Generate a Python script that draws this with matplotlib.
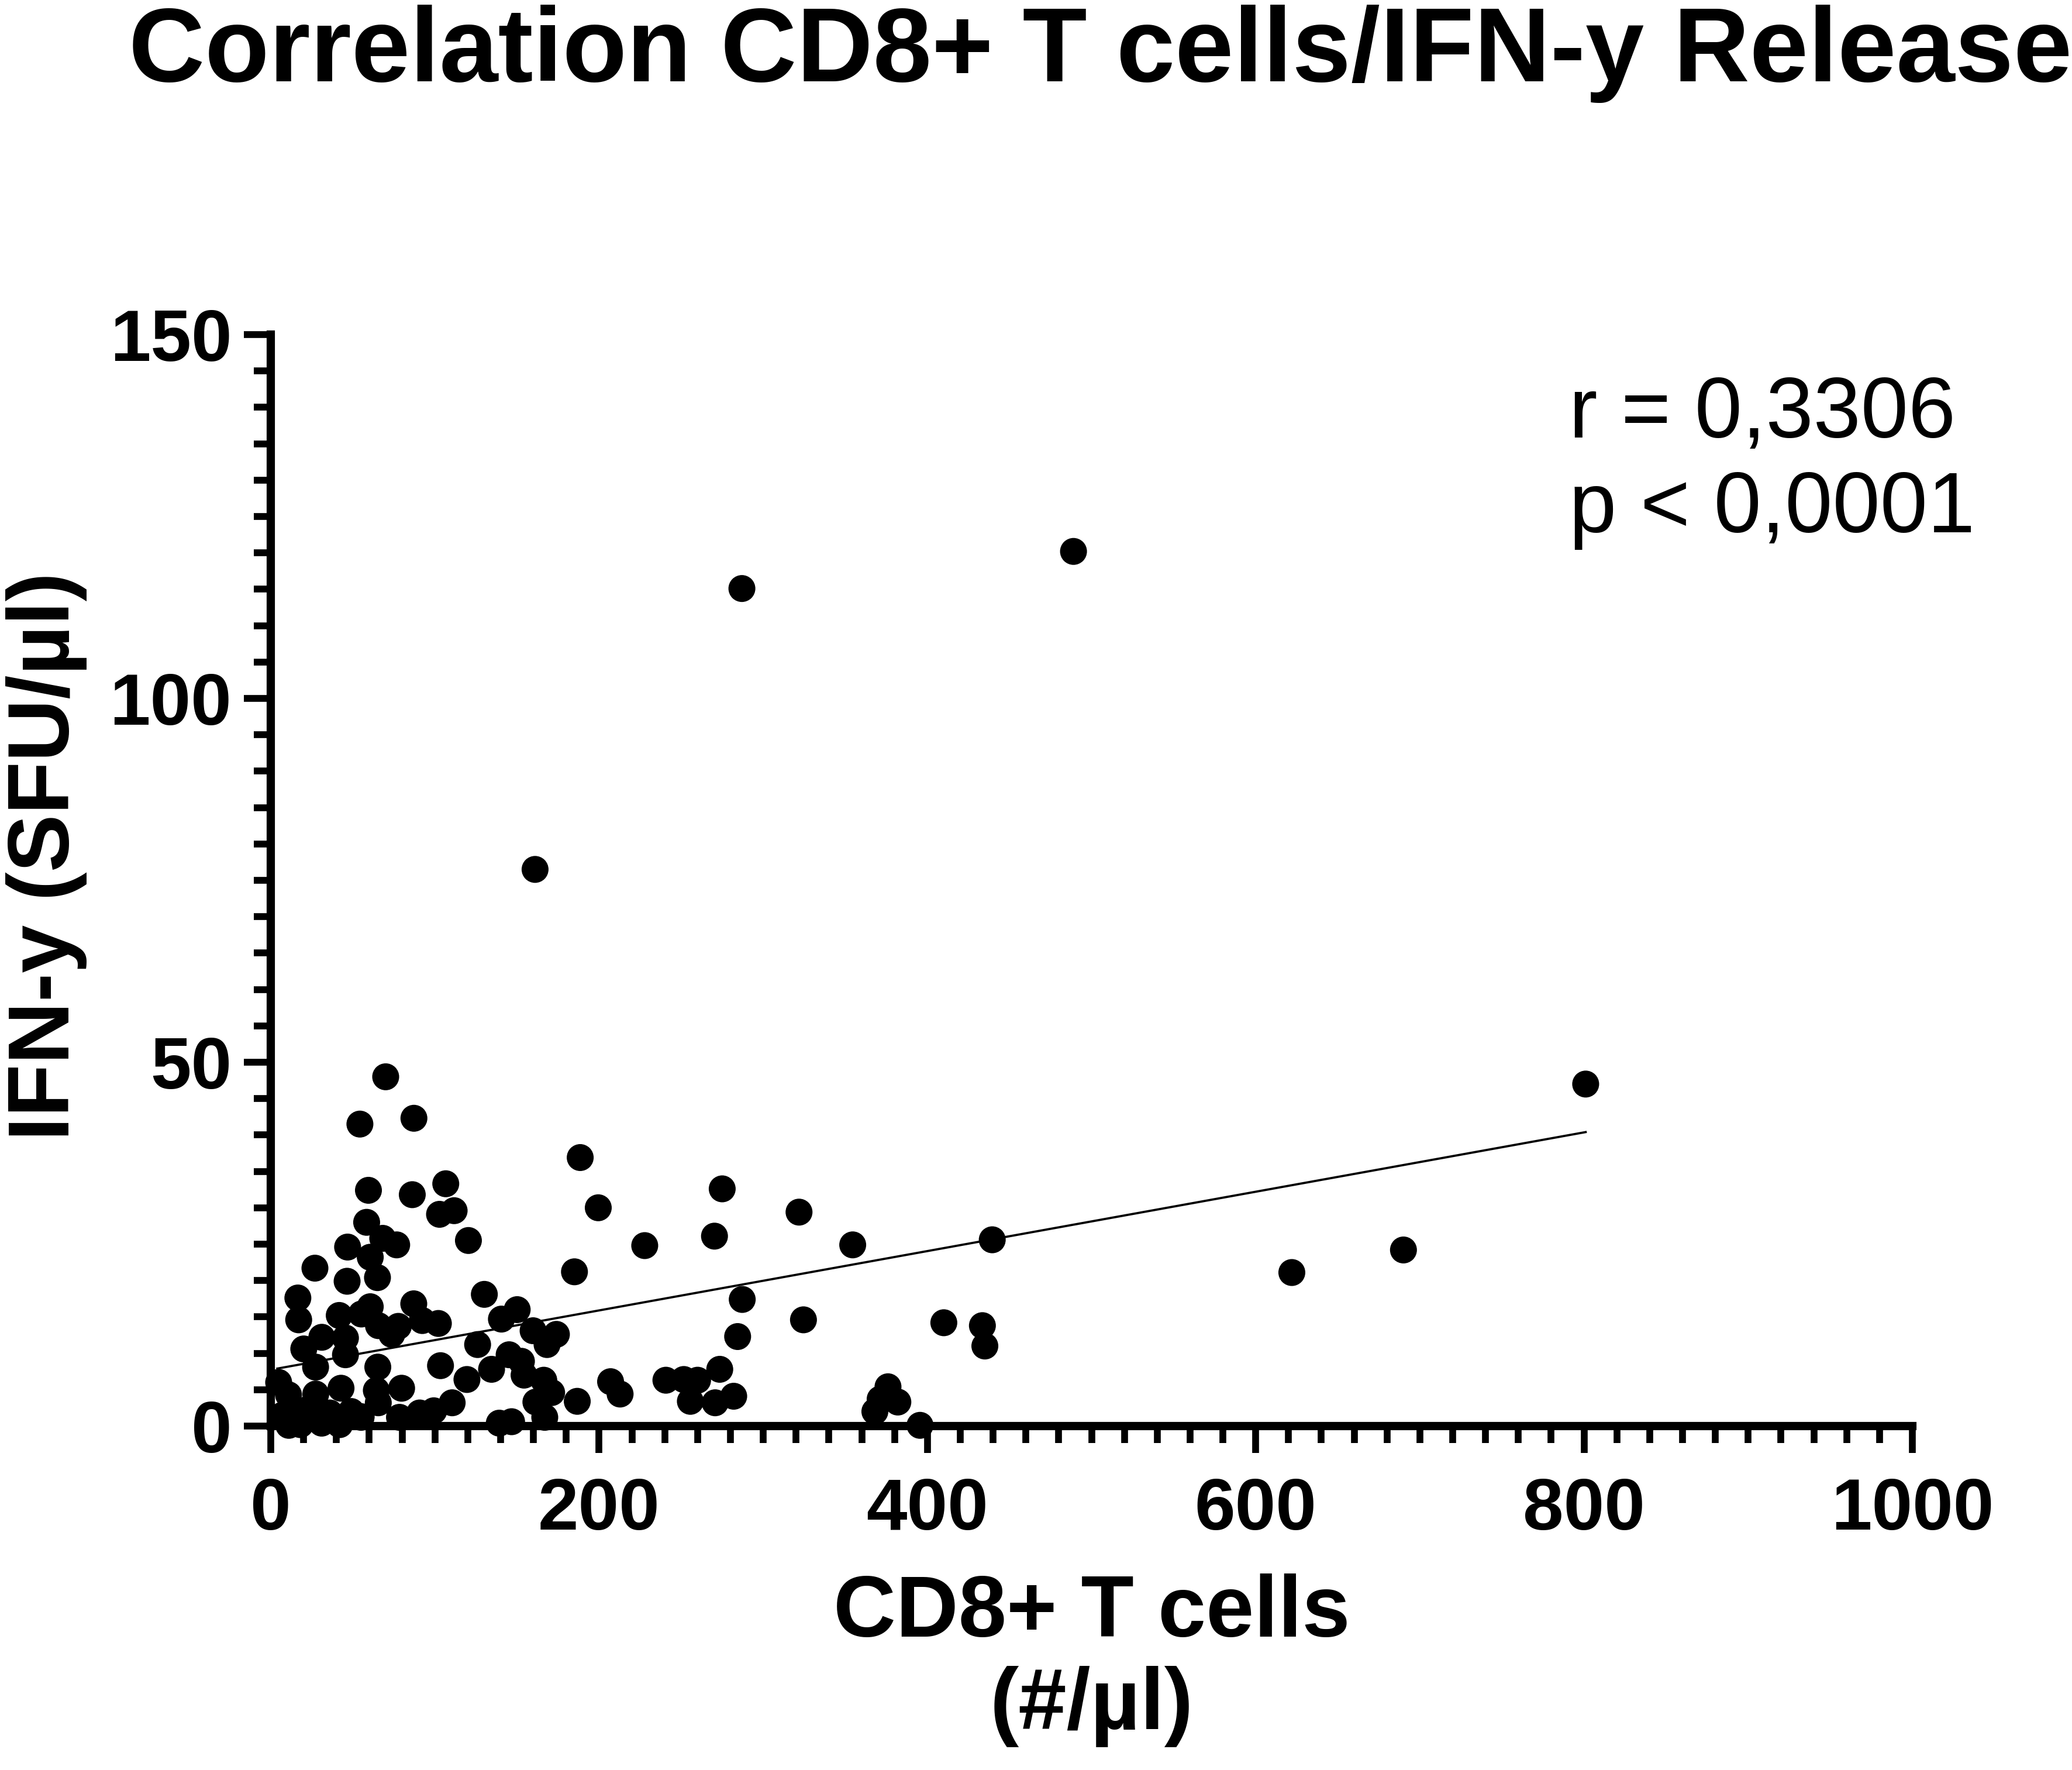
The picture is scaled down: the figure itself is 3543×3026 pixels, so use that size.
import matplotlib
matplotlib.use("Agg")
import matplotlib.pyplot as plt
from matplotlib.ticker import MultipleLocator
import numpy as np

# ---- data ----
cd8 = [489, 287, 161, 801, 622, 690, 439.5, 410, 433.5, 435, 354.5, 321.8, 324.5,
       275, 270.3, 287.2, 284.4, 273.5, 282, 270.7, 227.8, 199.5, 188.5, 185, 186.7,
       207, 212.8, 240.7, 251.6, 260, 255.6, 368, 371.2, 376, 382, 395.5,
       70, 54.3, 87.2, 59.5, 86.2, 106.6, 102.8, 111.7, 58.4, 68.2, 76.7, 120.4,
       46.8, 60.6, 65.0, 26.9, 46.5, 16.5, 130.1, 87.1, 17.0, 41.7, 55.2, 60.6,
       65.6, 77.7, 73.7, 92.3, 102.1, 150.1, 140.5, 159.8, 174.0, 168.3, 126,
       31.1, 20.1, 45.5, 45.5, 27.3, 65.2, 103.4, 134.5, 145.2, 152.7, 119.5,
       154.3, 166.3, 171.1, 161.5, 166.9, 139.2, 146.7, 110.5, 99.3, 90.7, 78.4,
       79.7, 64.3, 65.5, 55, 42.8, 27.4, 4.8, 10.8,
       7.2, 11, 18, 24, 31, 36, 42, 49, 55, 15.5]
ifn = [120.2, 115.1, 76.5, 47, 21.1, 24.2, 25.6, 14.2, 13.8, 11.0, 24.9, 29.4, 14.6,
       32.6, 26.1, 17.4, 12.3, 7.8, 4.1, 3.2, 24.8, 30.0, 36.9, 21.2, 3.4,
       6.1, 4.4, 6.3, 6.4, 6.3, 3.4, 2.0, 3.7, 5.4, 3.3, 0.1,
       48.0, 41.5, 42.3, 32.4, 31.8, 33.3, 29.1, 29.6, 28.0, 25.8, 24.9, 25.5,
       24.6, 23.2, 20.4, 21.7, 19.9, 17.6, 18.1, 16.8, 14.6, 15.2, 15.4, 16.4,
       13.8, 13.7, 12.6, 14.5, 14.1, 16.0, 14.7, 13.1, 12.6, 11.2, 11.2,
       12.2, 10.6, 12.1, 9.8, 8.1, 8.1, 8.3, 7.8, 9.8, 8.9, 6.4,
       7.0, 6.3, 4.6, 3.3, 1.2, 0.4, 0.6, 3.2, 2.1, 1.8, 1.2,
       5.2, 4.9, 3.2, 1.3, 5.2, 4.4, 6.0, 4.3,
       1.5, 0.1, 0.2, 2.5, 0.4, 1.8, 0.2, 2.0, 1.2, 2.0]

fit_x = [4, 801]
fit_y = [7.9, 40.4]

x_ticks = [0, 200, 400, 600, 800, 1000]
y_ticks = [0, 50, 100, 150]

title = "Correlation CD8+ T cells/IFN-y Release"
x_label = "CD8+ T cells\n(#/µl)"
y_label = "IFN-y (SFU/µl)"
stats_text = "r = 0,3306\np < 0,0001"

# ---- figure ----
plt.rcParams['font.family'] = ['Liberation Sans', 'DejaVu Sans']
fig = plt.figure(figsize=(3543 / 300, 3026 / 300), dpi=300)
ax = fig.add_axes([463 / 3543, 588 / 3026, 2807 / 3543, 1866 / 3026])

ax.scatter(cd8, ifn, s=122, color='black', edgecolors='none', zorder=3, clip_on=False)
ax.plot(fit_x, fit_y, color='black', lw=0.9, zorder=2)

ax.set_xlim(0, 1000)
ax.set_ylim(0, 150)
ax.set_xticks(x_ticks)
ax.set_yticks(y_ticks)
ax.xaxis.set_minor_locator(MultipleLocator(20))
ax.yaxis.set_minor_locator(MultipleLocator(5))

for s in ['top', 'right']:
    ax.spines[s].set_visible(False)
for s in ['left', 'bottom']:
    ax.spines[s].set_linewidth(3.4)
    ax.spines[s].set_capstyle('projecting')

ax.tick_params(axis='both', which='major', length=11, width=2.8, direction='out',
               labelsize=30)
ax.tick_params(axis='both', which='minor', length=7, width=2.8, direction='out')
ax.tick_params(axis='x', which='major', pad=10)
ax.tick_params(axis='y', which='major', pad=5)
for lab in ax.get_xticklabels() + ax.get_yticklabels():
    lab.set_fontweight('bold')

ax.set_xlabel(x_label, fontsize=35.5, fontweight='bold', linespacing=1.18, va='top')
ax.xaxis.set_label_coords(0.5, -0.135)
ax.set_ylabel(y_label, fontsize=35.5, fontweight='bold')
ax.yaxis.set_label_coords(-0.112, 0.522)

ax.text(791, 122.8, stats_text, fontsize=35, ha='left', va='baseline',
        linespacing=1.25, fontweight='normal')

fig.text(0.531, 0.954, title, fontsize=43.3, fontweight='bold', ha='center', va='baseline')

fig.savefig("out.png", dpi=300, facecolor='white')
